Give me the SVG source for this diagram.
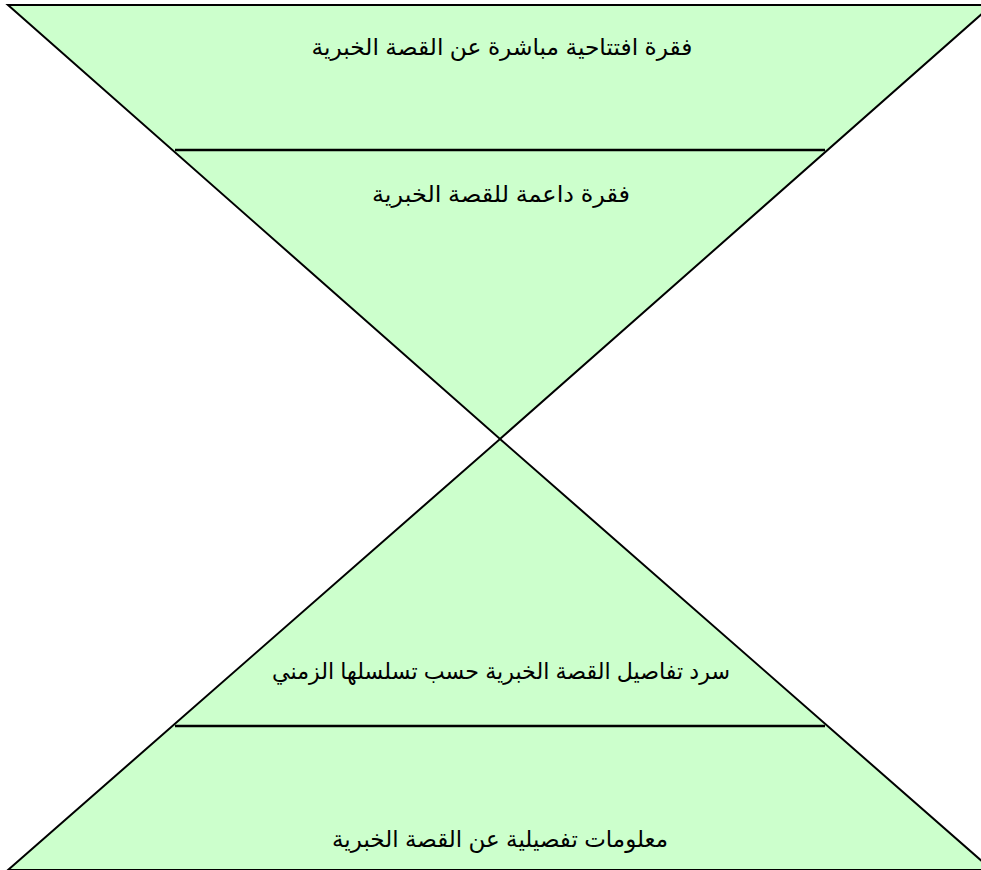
<svg xmlns="http://www.w3.org/2000/svg" width="981" height="870" viewBox="0 0 981 870">
<style>
.tri{fill:#CCFFCC;stroke:#000;stroke-width:2;stroke-linejoin:miter}
.sep{stroke:#000;stroke-width:2.5;fill:none}
.lbl{font-family:"Liberation Sans","DejaVu Sans",Arial,sans-serif;font-size:23px;fill:#000;text-anchor:middle}
</style>
<rect width="981" height="870" fill="#fff"/>
<g id="top-triangle">
<polygon class="tri" points="8,5 992,5 500,439"/>
</g>
<g id="bottom-triangle">
<polygon class="tri" points="500,439 992,870 8,870"/>
</g>
<g id="connectors">
<line class="sep" x1="175" y1="150" x2="825" y2="150"/>
<line class="sep" x1="175" y1="726" x2="825" y2="726"/>
</g>
<g id="node-opening">
<text class="lbl" x="502" y="55" direction="rtl" textLength="381" lengthAdjust="spacingAndGlyphs">فقرة افتتاحية مباشرة عن القصة الخبرية</text>
</g>
<g id="node-supporting">
<text class="lbl" x="501" y="202" direction="rtl" textLength="258" lengthAdjust="spacingAndGlyphs">فقرة داعمة للقصة الخبرية</text>
</g>
<g id="node-narration">
<text class="lbl" x="501" y="679" direction="rtl" textLength="458" lengthAdjust="spacingAndGlyphs">سرد تفاصيل القصة الخبرية حسب تسلسلها الزمني</text>
</g>
<g id="node-details">
<text class="lbl" x="500" y="847" direction="rtl" textLength="336" lengthAdjust="spacingAndGlyphs">معلومات تفصيلية عن القصة الخبرية</text>
</g>
</svg>
